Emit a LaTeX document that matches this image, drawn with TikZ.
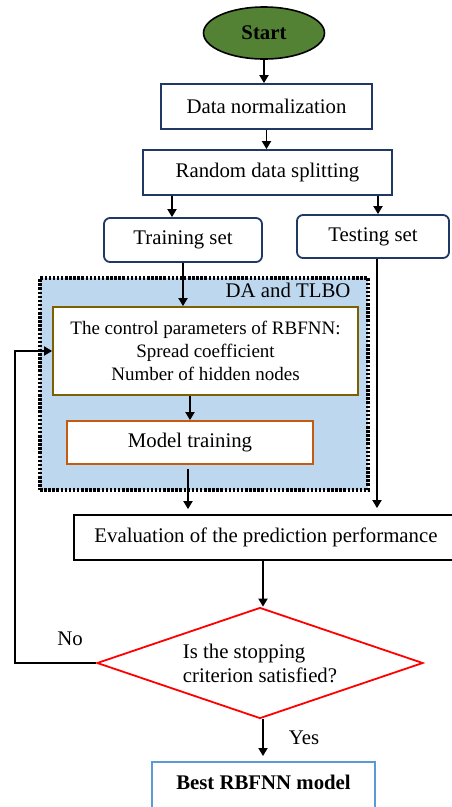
\documentclass[tikz,border=0pt]{standalone}
\usepackage{fontspec}
\setmainfont{Liberation Serif}
\usepackage{tikz}
\usetikzlibrary{shapes.geometric,arrows.meta,positioning}
\definecolor{startgreen}{RGB}{84,130,53}
\definecolor{navy}{RGB}{31,56,100}
\definecolor{gold}{RGB}{127,96,0}
\definecolor{rust}{RGB}{197,90,17}
\definecolor{paleblue}{RGB}{189,215,238}
\definecolor{skyblue}{RGB}{91,155,213}
\tikzset
{
    txt/.style      = {font=\fontsize{20.8}{24}\selectfont},
    startnode/.style = {ellipse, draw=black, line width=1.6pt, fill=startgreen, inner sep=0pt, minimum width=121, minimum height=52, txt},
    process/.style  = {rectangle, draw=navy, line width=1.8pt, fill=white, inner sep=0pt, align=center, txt},
    setnode/.style  = {process, rounded corners=6pt},
    region/.style   = {rectangle, draw=black, line width=3.2pt, dash pattern=on 2.5pt off 1.6pt, fill=paleblue, inner sep=0pt},
    decision/.style = {diamond, draw=red, line width=1.8pt, fill=white, inner sep=0pt, shape aspect=2.9, align=left, txt},
    arrow/.style    = {line width=1.8pt, -{Triangle[length=8pt,width=9pt]}}
}
\begin{document}
\begin{tikzpicture}[x=1pt, y=-1pt]
	\useasboundingbox (0,0) rectangle (451,807);
	% main column
	\node[startnode] (start) at (264,33) {\textbf{Start}};
	\node[process, minimum width=211, minimum height=45] (norm) at (266.5,106.5) {Data normalization};
	\node[process, minimum width=249, minimum height=45] (split) at (267.5,172.5) {Random data splitting};
	\node[setnode, minimum width=158, minimum height=44] (train) at (183,240) {Training set};
	\node[setnode, minimum width=152, minimum height=43] (test) at (373,236.5) {Testing set};
	% DA and TLBO block
	\node[region, minimum width=328, minimum height=212] (block) at (204,384) {};
	\node[txt, anchor=north east] (blocklabel) at (354,280) {DA and TLBO};
	\node[process, draw=gold, minimum width=305, minimum height=88, font=\fontsize{19}{23}\selectfont] (ctrl) at (205.5,351)
		{The control parameters of RBFNN:\\Spread coefficient\\Number of hidden nodes};
	\node[process, draw=rust, minimum width=246, minimum height=43] (model) at (190,442.5) {Model training};
	% evaluation and decision
	\node[process, draw=black, minimum width=384, minimum height=45] (eval) at (266,537.5) {Evaluation of the prediction performance};
	\node[decision, minimum width=326, minimum height=111] (stop) at (260,663)
		{Is the stopping\\criterion satisfied?};
	\node[process, draw=skyblue, anchor=north, minimum width=223, text height=28, text depth=25, font=\fontsize{20.8}{24}\selectfont\bfseries] (best) at (263.5,761) {Best RBFNN model};
	\node[txt] (no) at (70,639) {No};
	\node[txt] (yes) at (304,738) {Yes};
	\coordinate (loopleft) at (15,663);
	% connectors
	\draw[arrow] (start.south) -- (start.south |- norm.north);
	\draw[arrow] (norm.south) -- (norm.south |- split.north);
	\draw[arrow] ([xshift=-11pt]train.north |- split.south) -- ([xshift=-11pt]train.north);
	\draw[arrow] ([xshift=5pt]test.north |- split.south) -- ([xshift=5pt]test.north);
	\draw[arrow] (train.south) -- (train.south |- ctrl.north);
	\draw[arrow] (model.north |- ctrl.south) -- (model.north);
	\draw[arrow, shorten >=5pt] ([xshift=-2pt,yshift=-4pt]model.south) -- ([xshift=-2pt]model.south |- eval.north);
	\draw[arrow, shorten >=6pt] ([xshift=4pt]test.south) -- ([xshift=4pt]test.south |- eval.north);
	\draw[arrow] (eval.south -| 263,0) -- (263,0 |- stop.north);
	\draw[arrow] (stop.west) -- (loopleft) |- (ctrl.west);
	\draw[arrow, shorten >=5pt] (263,0 |- stop.south) -- (263,0 |- best.north);
\end{tikzpicture}
\end{document}
